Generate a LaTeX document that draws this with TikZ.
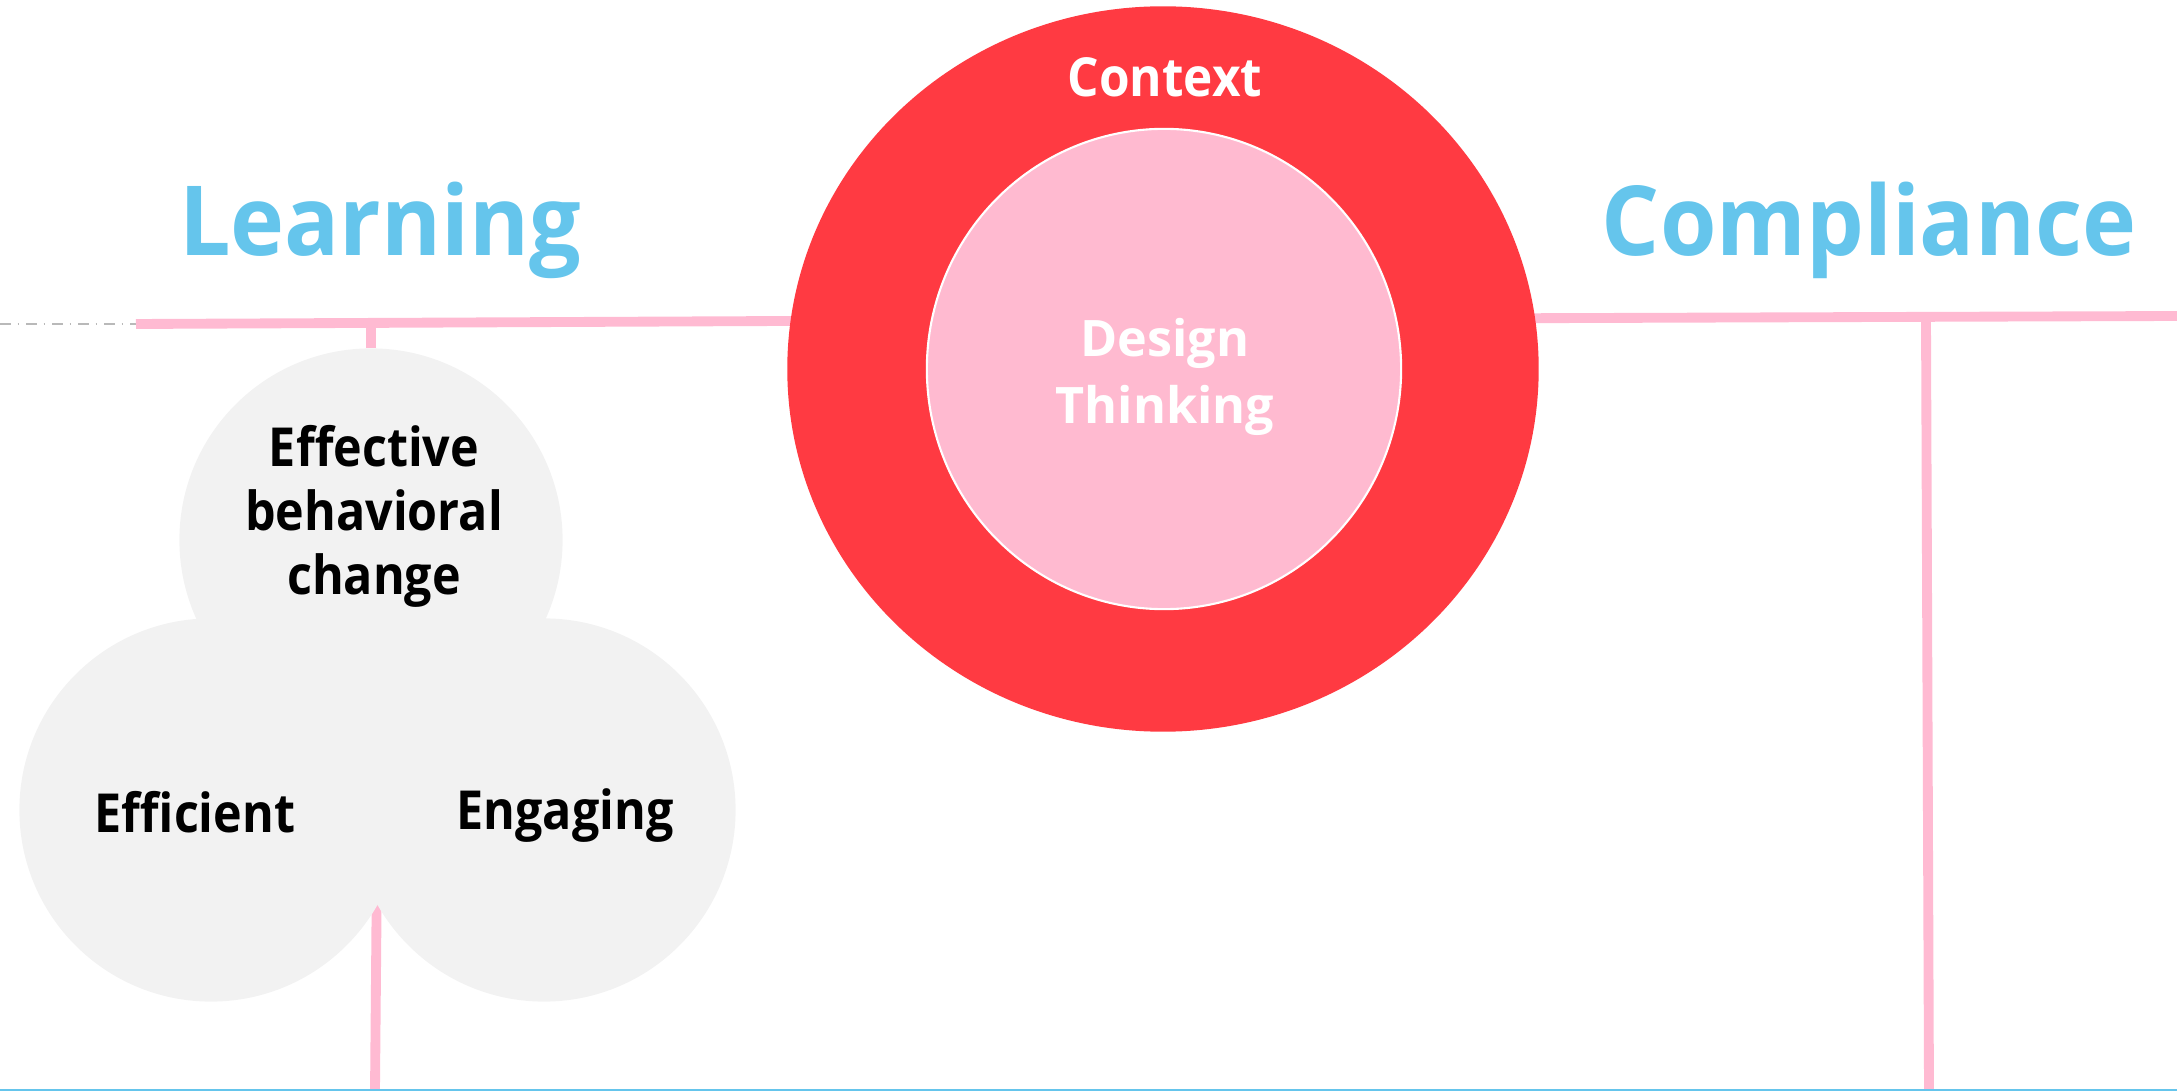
\documentclass[tikz,border=0pt]{standalone}
\usepackage{fontspec}
\setmainfont{Open Sans}
\newfontfamily\narrowfont{Open Sans}[FakeStretch=0.9]
\newfontfamily\headfont{Open Sans}[FakeStretch=0.945]
\newfontfamily\ctxfont{Open Sans}[FakeStretch=0.92]
\usetikzlibrary{shapes.geometric, positioning}

\definecolor{skyblue}{HTML}{65C5EC}
\definecolor{railpink}{HTML}{FFBAD2}
\definecolor{ctxred}{HTML}{FF3A42}
\definecolor{corepink}{HTML}{FFBAD0}
\definecolor{bubblegray}{HTML}{F2F2F2}

\tikzset{
    rail/.style={draw=railpink, line width=2.8pt},
    bubble/.style={circle, fill=bubblegray, minimum size=3.83cm, inner sep=0pt},
    bubbletext/.style={align=center, inner sep=0pt, font=\narrowfont\bfseries\fontsize{15.3}{18.2}\selectfont},
    heading/.style={text=skyblue, inner sep=0pt, anchor=base, font=\headfont\bfseries\fontsize{27.5}{33}\selectfont},
}

\begin{document}
\begin{tikzpicture}[x=0.01cm, y=-0.01cm]
        \useasboundingbox (0,0) rectangle (2177,1091);
        % Define the rails
        \coordinate (l_dash) at (0,324);
        \coordinate (l_start) at (136,324);
        \coordinate (l_end) at (1000,320);
        \coordinate (r_start) at (1300,319);
        \coordinate (r_end) at (2177,316);
        \coordinate (r_top) at (1926,318);
        \coordinate (r_foot) at (1929,1091);
        \coordinate (m_top) at (377,860);
        \coordinate (m_foot) at (375,1091);
        \coordinate (b_left) at (0,1090);
        \coordinate (b_right) at (2177,1090);
        \draw[gray!55, line width=0.4pt, dash dot] (l_dash) -- (l_start);
        \path[rail] (l_start) -- (l_end);
        \path[rail] (r_start) -- (r_end);
        \path[rail] (r_top) -- (r_foot);
        \path[rail] (m_top) -- (m_foot);
        \draw[skyblue, line width=0.6pt] (b_left) -- (b_right);
        % Define the headings
        \node[heading] (learning) at (380,256) {Learning};
        \node[heading] (compliance) at (1869,256) {Compliance};
        % Define the context rings
        \node[ellipse, fill=ctxred, minimum width=7.51cm, minimum height=7.25cm] (context) at (1163,369) {};
        \node[ellipse, fill=corepink, draw=white, line width=0.6pt, minimum width=4.74cm, minimum height=4.80cm] (core) at (1164,369) {};
        \node[text=white, inner sep=0pt, anchor=base, font=\ctxfont\bfseries\fontsize{15.3}{18}\selectfont] (ctx_label) at (1165,97) {Context};
        \node[text=white, inner sep=0pt, align=center, font=\bfseries\fontsize{14.3}{19}\selectfont] (core_label) at (1165,377) {Design\\Thinking};
        % Define the bubbles
        \node[bubble] (effective) at (371,540) {};
        \node[bubble] (efficient) at (211,810) {};
        \node[bubble] (engaging) at (544,810) {};
        \path[rail] (l_start -| effective) -- (effective.north);
        \node[bubbletext] (effective_t) at (374,516) {Effective\\behavioral\\change};
        \node[bubbletext] (efficient_t) at (195,812) {Efficient};
        \node[bubbletext] (engaging_t) at (565,816) {Engaging};
\end{tikzpicture}
\end{document}
